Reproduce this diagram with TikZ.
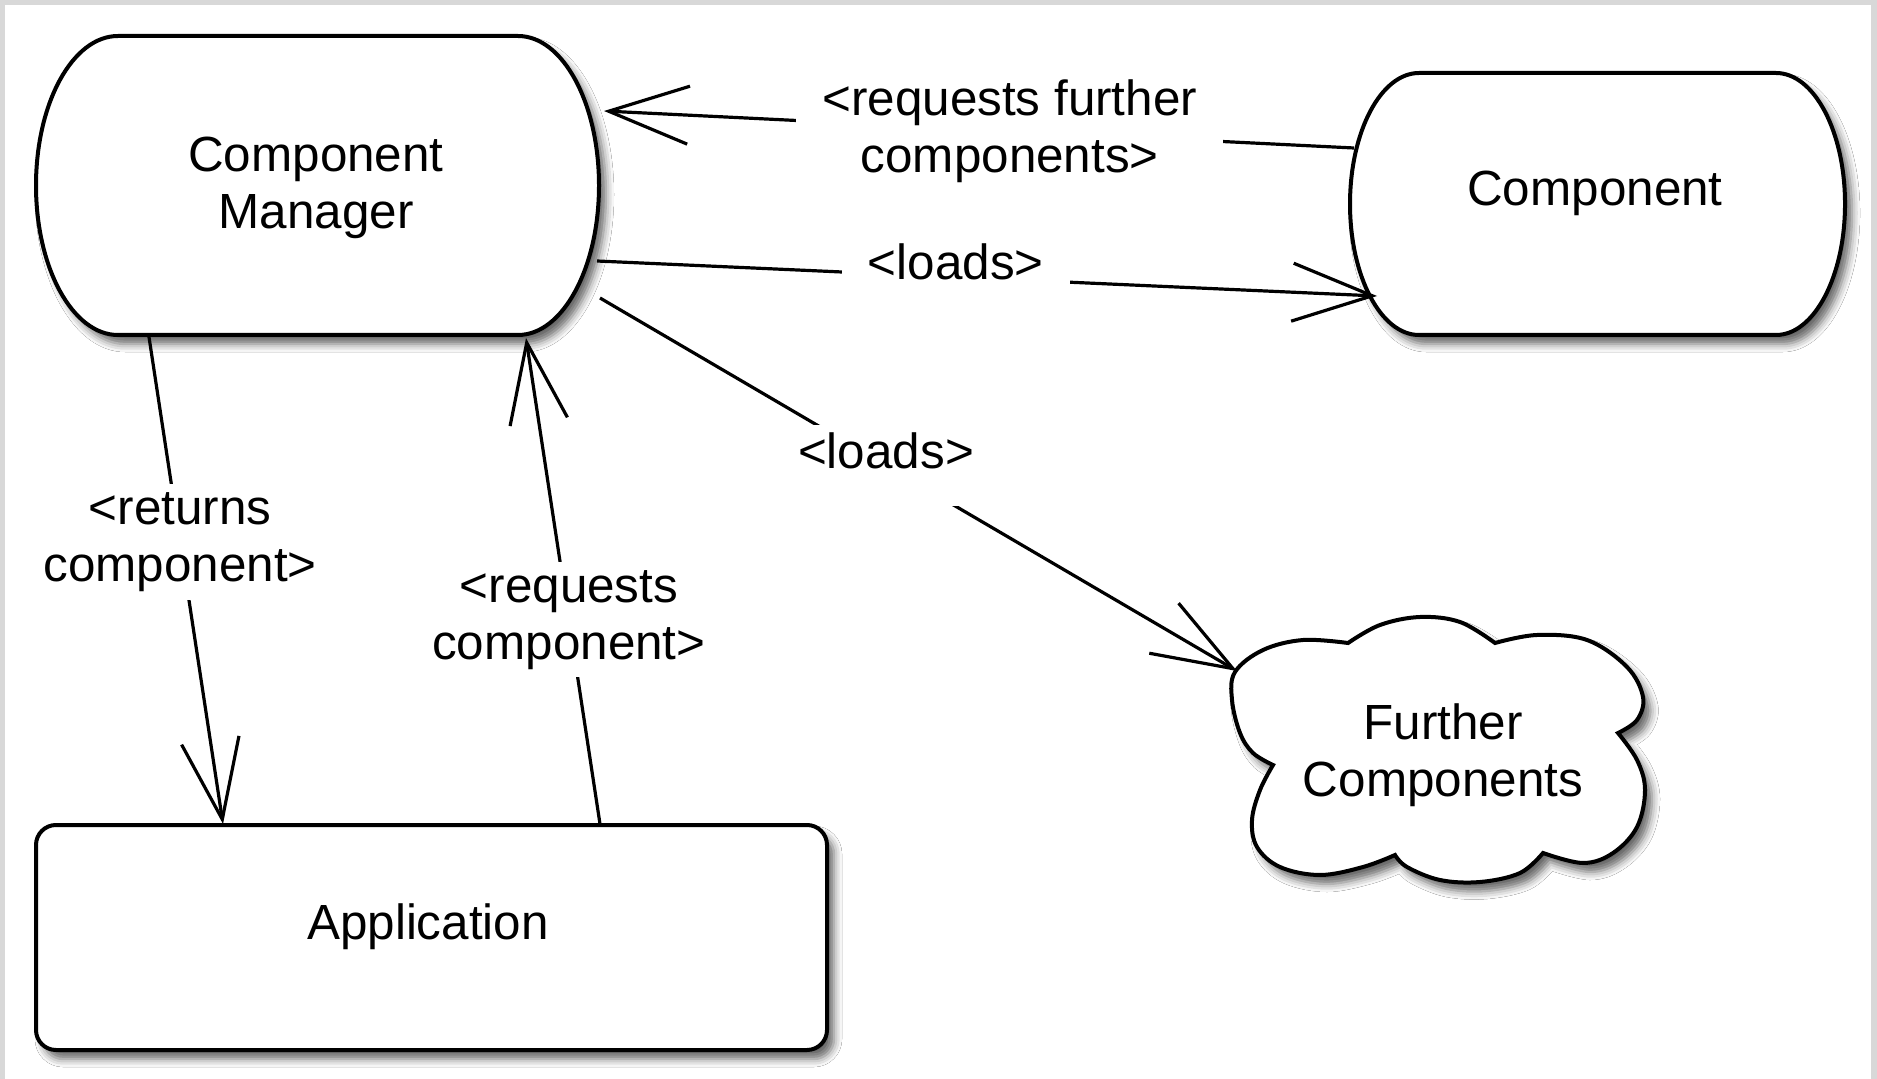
\documentclass[tikz,border=0pt]{standalone}
\usepackage{fontspec}
\setmainfont{Liberation Sans}
\usetikzlibrary{arrows.meta,shadows.blur}
\definecolor{framegray}{RGB}{216,216,216}
\begin{document}
\begin{tikzpicture}[x=0.5pt,y=-0.5pt,
  txt/.style={font=\fontsize{24.7pt}{28.5pt}\selectfont, inner sep=0pt, align=center},
  shapeline/.style={line width=2pt, fill=white, draw=black,
    blur shadow={shadow xshift=3.5pt, shadow yshift=-4.5pt, shadow blur radius=4pt, shadow opacity=60}},
  conn/.style={line width=1.6pt, -{Straight Barb[length=40pt,width=29pt]}},
  lbl/.style={font=\fontsize{24.7pt}{28.5pt}\selectfont, fill=white, inner xsep=13pt, inner ysep=4pt, align=center},
  lblone/.style={lbl, text depth=15pt}]

% frame and bounding box
\fill[framegray] (0,0) rectangle (1877,1079);
\fill[white] (5,5) rectangle (1871,1079);
\useasboundingbox (0,0) rectangle (1877,1079);

% Component Manager outline
\draw[shapeline] (118,36) -- (518,36)
  .. controls (562.7,36) and (599,102.9) .. (599,185.5)
  .. controls (599,268.1) and (562.7,335) .. (518,335)
  -- (118,335)
  .. controls (72.7,335) and (36,268.1) .. (36,185.5)
  .. controls (36,102.9) and (72.7,36) .. (118,36) -- cycle;

% Component outline
\draw[shapeline] (1419,73) -- (1776,73)
  .. controls (1814.1,73) and (1845,131.6) .. (1845,204)
  .. controls (1845,276.4) and (1814.1,335) .. (1776,335)
  -- (1419,335)
  .. controls (1380.9,335) and (1350,276.4) .. (1350,204)
  .. controls (1350,131.6) and (1380.9,73) .. (1419,73) -- cycle;

% Application outline
\draw[shapeline, rounded corners=10pt] (36,825) rectangle (827,1050);

% Further Components cloud
\draw[shapeline]
  plot[smooth, tension=0.6] coordinates {(1273,765) (1253,753) (1240,733) (1232,700) (1235,672) (1263,650) (1303,640) (1348,643)}
  -- plot[smooth, tension=0.6] coordinates {(1348,643) (1380,625) (1420,617) (1460,622) (1495,643)}
  -- plot[smooth, tension=0.6] coordinates {(1495,643) (1537,635) (1587,640) (1627,667) (1643,697) (1637,720) (1618,733)}
  -- plot[smooth, tension=0.6] coordinates {(1618,733) (1637,760) (1645,790) (1637,827) (1613,853) (1583,863) (1543,853)}
  -- plot[smooth, tension=0.6] coordinates {(1543,853) (1520,873) (1480,882) (1440,880) (1407,867) (1395,855)}
  -- plot[smooth, tension=0.6] coordinates {(1395,855) (1363,867) (1320,875) (1280,867) (1257,847) (1252,820) (1260,790) (1273,765)}
  -- cycle;

% texts
\node[txt] (cm) at (316,188) {Component\\Manager};
\node[txt] (comp) at (1595,193) {Component};
\node[txt] (app) at (428,927) {Application};
\node[txt] (fc) at (1443,755) {Further\\Components};

% connector end points
\coordinate (c1s) at (1354,148);
\coordinate (c1e) at (604,111);
\coordinate (c2s) at (597,261);
\coordinate (c2e) at (1377,296);
\coordinate (c3s) at (600,298);
\coordinate (c3e) at (1237,671);
\coordinate (c4s) at (149,337);
\coordinate (c4e) at (223,824);
\coordinate (c5s) at (600,824);
\coordinate (c5e) at (526,338);

% connectors
\draw[conn] (c1s) -- node[lbl, pos=0.459] (l1) {<requests further\\components>} (c1e);
\draw[conn] (c2s) -- node[lblone, pos=0.46] (l2) {<loads>} (c2e);
\draw[conn] (c3s) -- node[lblone, pos=0.449] (l3) {<loads>} (c3e);
\draw[conn] (c4s) -- node[lbl, pos=0.421] (l4) {<returns\\component>} (c4e);
\draw[conn] (c5s) -- node[lbl, pos=0.42] (l5) {<requests\\component>} (c5e);
\end{tikzpicture}
\end{document}
